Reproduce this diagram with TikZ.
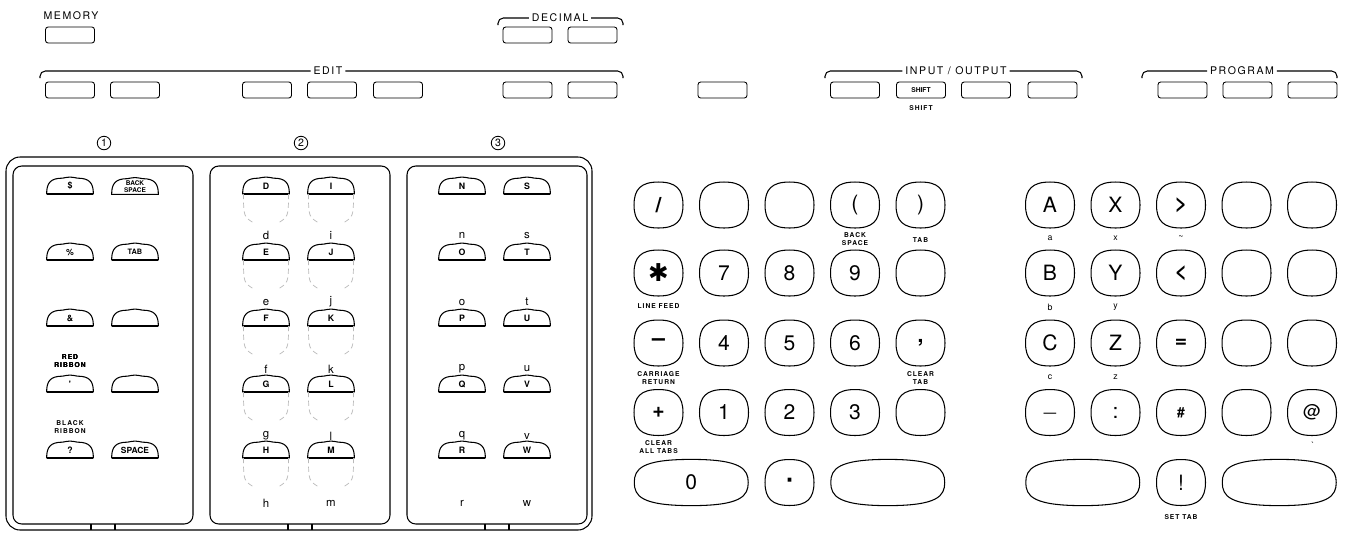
\documentclass[tikz,border=0pt]{standalone}
\usepackage{fontspec}
\setmainfont{TeX Gyre Heros}
\newfontfamily\symfont{DejaVu Sans}
\newfontfamily\wideletters[LetterSpace=15]{TeX Gyre Heros}
\usetikzlibrary{calc}

\newcommand\kslash{\bfseries /}
\newcommand\kcomma{\bfseries ,}
\newcommand\kstar{{\symfont\bfseries\fontsize{14}{14}\selectfont ✱}}
\newcommand\kminus{{\symfont\bfseries −}}

% square keypad key, sides slightly bulged
\newcommand\tvoutline[2][1.5pt]{%
  \draw[keyline] ([yshift=#1]#2.north)
    .. controls ([xshift=-2.5pt,yshift=#1]#2.north east) and ([xshift=1.5pt,yshift=-2.5pt]#2.north east) .. ([xshift=1.5pt]#2.east)
    .. controls ([xshift=1.5pt,yshift=2.5pt]#2.south east) and ([xshift=-2.5pt,yshift=-#1]#2.south east) .. ([yshift=-#1]#2.south)
    .. controls ([xshift=2.5pt,yshift=-#1]#2.south west) and ([xshift=-1.5pt,yshift=2.5pt]#2.south west) .. ([xshift=-1.5pt]#2.west)
    .. controls ([xshift=-1.5pt,yshift=-2.5pt]#2.north west) and ([xshift=2.5pt,yshift=#1]#2.north west) .. ([yshift=#1]#2.north) -- cycle;}
% typewriter key in the character panels
\newcommand\domeoutline[1]{%
  \draw[keyline] (#1.south west)
    .. controls ([yshift=6pt]#1.south west) and ([xshift=2pt]#1.north west) .. ([xshift=9pt]#1.north west)
    .. controls ([yshift=0.8pt]#1.north) .. ([xshift=-9pt]#1.north east)
    .. controls ([xshift=-2pt]#1.north east) and ([yshift=6pt]#1.south east) .. (#1.south east) -- cycle;
  \draw[line width=0.9pt] (#1.south west) -- (#1.south east);}
% faint body below a panel key
\newcommand\ghostoutline[1]{%
  \draw[ghostline] ([xshift=0.5pt]#1.south west) .. controls ([xshift=0.5pt,yshift=-13pt]#1.south west) .. ([xshift=7pt,yshift=-17pt]#1.south west);
  \draw[ghostline] ([xshift=-0.5pt]#1.south east) .. controls ([xshift=-0.5pt,yshift=-13pt]#1.south east) .. ([xshift=-7pt,yshift=-17pt]#1.south east);}

\tikzset{
  keyline/.style={line width=0.6pt},
  ghostline/.style={line width=0.4pt,gray!55,densely dashed},
  bracketline/.style={line width=0.6pt,rounded corners=3pt},
  panelline/.style={line width=0.6pt,rounded corners=5pt},
  topkey/.style={draw,line width=0.5pt,rounded corners=1.5pt,minimum width=0.98cm,minimum height=0.32cm,inner sep=0pt},
  padkey/.style={minimum width=0.86cm,minimum height=0.8cm,inner sep=0pt,font=\fontsize{12}{12}\selectfont},
  padwide/.style={padkey,minimum width=2.16cm,minimum height=0.7cm},
  domekey/.style={minimum width=0.92cm,minimum height=0.3cm,inner sep=0pt,align=center,font=\bfseries\fontsize{5}{5}\selectfont},
  grouplabel/.style={font=\wideletters\fontsize{6}{6}\selectfont,inner sep=1.5pt},
  tinylabel/.style={font=\wideletters\bfseries\fontsize{3.8}{4.2}\selectfont,align=center,inner sep=0pt},
  lowlabel/.style={font=\fontsize{6.5}{6.5}\selectfont,inner sep=0pt},
  circnum/.style={draw,circle,line width=0.5pt,inner sep=0.6pt,minimum size=0.27cm,font=\fontsize{6}{6}\selectfont}
}

\begin{document}
\begin{tikzpicture}[x=0.02cm,y=-0.02cm]
\useasboundingbox (0,0) rectangle (1349,532);

%% memory and decimal
\node[grouplabel] (memlabel) at (71,16) {MEMORY};
\node[topkey] (memory) at (70,35) {};
\node[grouplabel] (decimal) at (560,18) {DECIMAL};
\coordinate (decl) at (498,25);
\coordinate (decr) at (623,25);
\draw[bracketline] (decimal.west) -| (decl);
\draw[bracketline] (decimal.east) -| (decr);
\node[topkey] (dec1) at (527.5,35) {};
\node[topkey] (dec2) at (592.5,35) {};

%% function key groups
\node[grouplabel] (edit) at (328,71) {EDIT};
\node[grouplabel] (inout) at (956,71) {INPUT / OUTPUT};
\node[grouplabel] (prog) at (1242,71) {PROGRAM};
\foreach \name/\xa/\xb in {edit/40/623, inout/825/1082, prog/1142/1337} {
  \coordinate (\name-l) at (\xa,78);
  \coordinate (\name-r) at (\xb,78);
  \draw[bracketline] (\name.west) -| (\name-l);
  \draw[bracketline] (\name.east) -| (\name-r);
}
\foreach \name/\x in {ed1/70, ed2/135, ed3/267, ed4/332, ed5/398, ed6/527.5, ed7/592.5,
    solo/722.5, io1/855, io3/986, io4/1052.5, pg1/1182.5, pg2/1247.5, pg3/1312.5}
  \node[topkey] (\name) at (\x,90) {};
\node[topkey,font=\bfseries\fontsize{3.8}{4}\selectfont] (shift) at (921,90) {SHIFT};
\node[tinylabel] (shiftlabel) at (921,108) {SHIFT};

%% character panels
\draw[panelline,rounded corners=8pt] (6,157) rectangle (592,530);
\foreach \xa in {13,210,407}
  \draw[panelline] (\xa,166) rectangle ++(180,358);
\foreach \xc in {103,300,497} {
  \draw[keyline] (\xc-12,524) -- (\xc-12,530);
  \draw[keyline] (\xc+12,524) -- (\xc+12,530);
}
\node[circnum] (num1) at (104,143) {1};
\node[circnum] (num2) at (301,143) {2};
\node[circnum] (num3) at (498,143) {3};

\foreach \name/\x/\y/\txt in {kdollar/70/186/\$, kpct/70/252/\%, kamp/70/318/\&, kfree1/135/318/{},
    kquote/70/384/\textquotesingle, kfree2/135/384/{}, kquest/70/450/?} {
  \node[domekey] (\name) at (\x,\y) {\txt};
  \domeoutline{\name}
}
\node[domekey,font=\bfseries\fontsize{3.7}{3.9}\selectfont] (kbksp) at (135,186.5) {BACK\\SPACE};
\node[domekey,font=\bfseries\fontsize{4.2}{4.2}\selectfont] (ktab) at (135,252) {TAB};
\node[domekey,font=\bfseries\fontsize{4.8}{5}\selectfont] (kspace) at (135,450) {SPACE};
\foreach \name in {kbksp,ktab,kspace}
  \domeoutline{\name}
\node[tinylabel] (redrib) at (70,361) {RED\\RIBBON};
\node[tinylabel] (blackrib) at (70,427) {BLACK\\RIBBON};

\foreach \a/\b/\la/\lb [count=\i from 0] in {D/I/d/i, E/J/e/j, F/K/f/k, G/L/g/l, H/M/h/m} {
  \node[domekey] (k\a) at (266,186+66*\i) {\a};
  \node[domekey] (k\b) at (331,186+66*\i) {\b};
  \domeoutline{k\a}
  \domeoutline{k\b}
  \ghostoutline{k\a}
  \ghostoutline{k\b}
  \node[lowlabel] (l\la) at (266,235+67*\i) {\la};
  \node[lowlabel] (l\lb) at (331,235+67*\i) {\lb};
}
\foreach \a/\b/\la/\lb [count=\i from 0] in {N/S/n/s, O/T/o/t, P/U/p/u, Q/V/q/v, R/W/r/w} {
  \node[domekey] (k\a) at (462,186+66*\i) {\a};
  \node[domekey] (k\b) at (527,186+66*\i) {\b};
  \domeoutline{k\a}
  \domeoutline{k\b}
  \node[lowlabel] (l\la) at (462,235+67*\i) {\la};
  \node[lowlabel] (l\lb) at (527,235+67*\i) {\lb};
}

%% numeric keypad
\foreach \name/\x/\y/\txt in {
    m11/658.5/205/\kslash, m12/724/205/{}, m13/789.5/205/{}, m14/855/205/(, m15/920.5/205/),
    m21/658.5/273/\kstar, m22/724/273/7, m23/789.5/273/8, m24/855/273/9, m25/920.5/273/{},
    m31/658.5/343/\kminus, m32/724/343/4, m33/789.5/343/5, m34/855/343/6, m35/920.5/343/\kcomma,
    m41/658.5/412.5/{\bfseries +}, m42/724/412.5/1, m43/789.5/412.5/2, m44/855/412.5/3, m45/920.5/412.5/{},
    m53/789.5/482.5/{\symfont\bfseries ·}} {
  \node[padkey] (\name) at (\x,\y) {\txt};
  \tvoutline{\name}
}
\node[padwide] (m51) at (691.25,482.5) {0};
\node[padwide] (m54) at (887.75,482.5) {};
\tvoutline[3pt]{m51}
\tvoutline[3pt]{m54}
\node[tinylabel] (bksp) at (855,239) {BACK\\SPACE};
\node[tinylabel] (tab) at (920.5,240) {TAB};
\node[tinylabel] (linefeed) at (658.5,306) {LINE FEED};
\node[tinylabel] (carret) at (658.5,378) {CARRIAGE\\RETURN};
\node[tinylabel] (cleartab) at (920.5,378) {CLEAR\\TAB};
\node[tinylabel] (clearall) at (658.5,447) {CLEAR\\ALL TABS};

%% alpha keypad
\foreach \name/\x/\y/\txt in {
    r11/1050/205/A, r12/1115.5/205/X, r13/1181/205/{\bfseries >}, r14/1246.5/205/{}, r15/1312/205/{},
    r21/1050/273/B, r22/1115.5/273/Y, r23/1181/273/{\bfseries <}, r24/1246.5/273/{}, r25/1312/273/{},
    r31/1050/343/C, r32/1115.5/343/Z, r33/1181/343/{\bfseries =}, r34/1246.5/343/{}, r35/1312/343/{},
    r41/1050/412.5/\_, r42/1115.5/412.5/:, r43/1181/412.5/{\bfseries\fontsize{8}{8}\selectfont\#},
    r44/1246.5/412.5/{}, r45/1312/412.5/{\fontsize{10}{10}\selectfont @},
    r53/1181/482.5/!} {
  \node[padkey] (\name) at (\x,\y) {\txt};
  \tvoutline{\name}
}
\node[padwide] (r51) at (1082.75,482.5) {};
\node[padwide] (r54) at (1279.25,482.5) {};
\tvoutline[3pt]{r51}
\tvoutline[3pt]{r54}
\foreach \name/\x/\y/\txt in {la/1050/238/a, lx/1115.5/238/x, ltilde/1181/238/\textasciitilde,
    lb/1050/307/b, ly/1115.5/307/y, lc/1050/377/c, lz/1115.5/377/z, lgrave/1313/445/\textasciigrave}
  \node[lowlabel,font=\fontsize{5}{5}\selectfont] (\name) at (\x,\y) {\txt};
\node[tinylabel] (settab) at (1181,517) {SET TAB};
\end{tikzpicture}
\end{document}
